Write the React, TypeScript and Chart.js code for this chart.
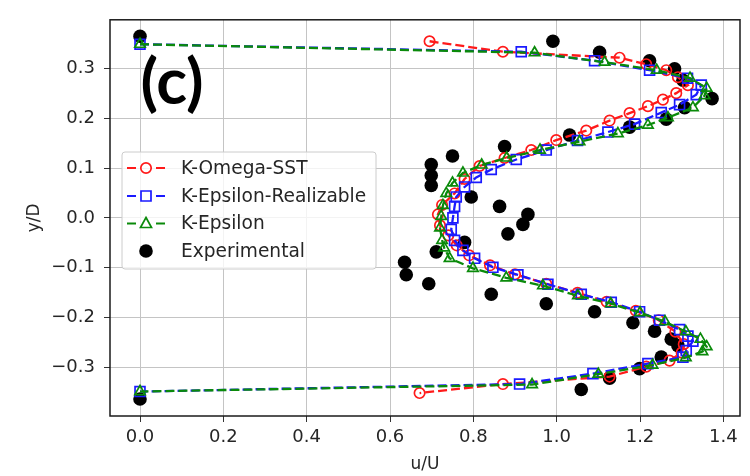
import React, { useEffect, useRef } from "react";
import { Chart, registerables } from "chart.js";
Chart.register(...registerables);

// ---- data ----
const xTicks = [0.0, 0.2, 0.4, 0.6, 0.8, 1.0, 1.2, 1.4];
const yTicks = [-0.3, -0.2, -0.1, 0.0, 0.1, 0.2, 0.3];

const kOmegaSST_u = [0.695, 0.871, 1.151, 1.215, 1.263, 1.291, 1.315, 1.287, 1.255, 1.219, 1.175, 1.127, 1.071, 0.999, 0.939, 0.875, 0.815, 0.779, 0.755, 0.725, 0.715, 0.72, 0.74, 0.76, 0.79, 0.84, 0.9, 0.975, 1.05, 1.12, 1.19, 1.245, 1.285, 1.305, 1.3, 1.271, 1.215, 1.127, 0.871, 0.671];
const kOmegaSST_y = [0.354, 0.333, 0.321, 0.308, 0.296, 0.282, 0.266, 0.25, 0.237, 0.224, 0.21, 0.195, 0.175, 0.156, 0.136, 0.12, 0.104, 0.078, 0.049, 0.026, 0.007, -0.015, -0.035, -0.055, -0.075, -0.095, -0.113, -0.132, -0.15, -0.168, -0.186, -0.205, -0.228, -0.253, -0.27, -0.286, -0.298, -0.318, -0.333, -0.351];

const kEpsReal_u = [0, 0.915, 1.091, 1.223, 1.314, 1.347, 1.335, 1.295, 1.251, 1.187, 1.123, 1.05, 0.975, 0.903, 0.843, 0.807, 0.779, 0.759, 0.755, 0.751, 0.747, 0.755, 0.775, 0.803, 0.847, 0.907, 0.979, 1.059, 1.131, 1.199, 1.247, 1.295, 1.315, 1.327, 1.311, 1.303, 1.219, 1.087, 0.911, 0];
const kEpsReal_y = [0.348, 0.333, 0.315, 0.296, 0.28, 0.266, 0.247, 0.227, 0.211, 0.188, 0.172, 0.155, 0.136, 0.117, 0.097, 0.081, 0.062, 0.042, 0.023, 0.0, -0.023, -0.045, -0.065, -0.081, -0.099, -0.114, -0.133, -0.153, -0.169, -0.188, -0.205, -0.224, -0.237, -0.247, -0.266, -0.279, -0.292, -0.312, -0.333, -0.348];

const kEps_u = [0, 0.947, 1.115, 1.24, 1.32, 1.36, 1.355, 1.327, 1.267, 1.219, 1.147, 1.055, 0.96, 0.88, 0.82, 0.775, 0.75, 0.735, 0.727, 0.723, 0.72, 0.725, 0.73, 0.743, 0.799, 0.879, 0.967, 1.051, 1.13, 1.2, 1.26, 1.31, 1.345, 1.36, 1.35, 1.31, 1.23, 1.1, 0.941, 0];
const kEps_y = [0.348, 0.331, 0.312, 0.296, 0.28, 0.26, 0.245, 0.221, 0.201, 0.186, 0.169, 0.153, 0.136, 0.12, 0.106, 0.09, 0.07, 0.049, 0.025, 0.003, -0.02, -0.045, -0.06, -0.081, -0.101, -0.12, -0.136, -0.156, -0.172, -0.19, -0.208, -0.228, -0.243, -0.258, -0.268, -0.28, -0.295, -0.313, -0.334, -0.348];

const exp_u = [0, 0.991, 1.103, 1.223, 1.283, 1.303, 1.373, 1.307, 1.263, 1.175, 1.031, 0.875, 0.75, 0.699, 0.699, 0.699, 0.795, 0.863, 0.931, 0.919, 0.883, 0.779, 0.711, 0.635, 0.639, 0.693, 0.843, 0.975, 1.091, 1.183, 1.235, 1.275, 1.291, 1.251, 1.199, 1.127, 1.059, 0];
const exp_y = [0.364, 0.354, 0.332, 0.315, 0.299, 0.276, 0.239, 0.221, 0.198, 0.182, 0.166, 0.143, 0.124, 0.107, 0.085, 0.065, 0.042, 0.023, 0.007, -0.013, -0.032, -0.049, -0.068, -0.089, -0.114, -0.132, -0.153, -0.172, -0.188, -0.21, -0.227, -0.243, -0.256, -0.279, -0.302, -0.321, -0.344, -0.363];

const seriesNames = ["K-Omega-SST", "K-Epsilon-Realizable", "K-Epsilon", "Experimental"];
const panelLabel = "(c)";
const xTitle = "u/U";
const yTitle = "y/D";

const RED = "#ff1a1a";
const BLUE = "#1a1aff";
const GREEN = "#0a8a0a";
const BLACK = "#000000";
const TXT = "#262626";
const FONT = "'DejaVu Sans', sans-serif";

const pts = (u: number[], y: number[]) => u.map((v, i) => ({ x: v, y: y[i] }));
const fmt = (v: number) => {
  const s = Math.abs(v) < 1e-9 ? "0.0" : v.toFixed(1);
  return s.replace("-", "\u2212");
};

function drawMarker(ctx: CanvasRenderingContext2D, kind: string, x: number, y: number, color: string) {
  ctx.save();
  ctx.setLineDash([]);
  ctx.lineWidth = 1.7;
  ctx.strokeStyle = color;
  ctx.fillStyle = color;
  ctx.beginPath();
  if (kind === "circle") {
    ctx.arc(x, y, 5.2, 0, Math.PI * 2);
    ctx.stroke();
  } else if (kind === "rect") {
    ctx.rect(x - 5, y - 5, 10, 10);
    ctx.stroke();
  } else if (kind === "triangle") {
    ctx.moveTo(x, y - 6);
    ctx.lineTo(x + 5.5, y + 4);
    ctx.lineTo(x - 5.5, y + 4);
    ctx.closePath();
    ctx.stroke();
  } else {
    ctx.arc(x, y, 6.8, 0, Math.PI * 2);
    ctx.fill();
  }
  ctx.restore();
}

const decorPlugin = {
  id: "decor",
  afterDatasetsDraw(chart: any) {
    const { ctx, chartArea } = chart;
    ctx.save();
    ctx.strokeStyle = "#1a1a1a";
    ctx.lineWidth = 1.5;
    ctx.strokeRect(chartArea.left, chartArea.top, chartArea.right - chartArea.left, chartArea.bottom - chartArea.top);
    ctx.restore();
  },
  afterDraw(chart: any) {
    const { ctx, chartArea } = chart;
    ctx.save();
    // panel label
    ctx.fillStyle = "#000";
    ctx.font = "bold 64px Lato, 'Open Sans', sans-serif";
    ctx.textAlign = "center";
    ctx.textBaseline = "middle";
    ctx.fillText(panelLabel, 172, 83);

    // legend box
    const bx = 122, by = 152, bw = 254, bh = 117;
    ctx.fillStyle = "rgba(255,255,255,0.8)";
    ctx.strokeStyle = "#cccccc";
    ctx.lineWidth = 1;
    ctx.beginPath();
    const r = 3;
    ctx.moveTo(bx + r, by);
    ctx.lineTo(bx + bw - r, by);
    ctx.quadraticCurveTo(bx + bw, by, bx + bw, by + r);
    ctx.lineTo(bx + bw, by + bh - r);
    ctx.quadraticCurveTo(bx + bw, by + bh, bx + bw - r, by + bh);
    ctx.lineTo(bx + r, by + bh);
    ctx.quadraticCurveTo(bx, by + bh, bx, by + bh - r);
    ctx.lineTo(bx, by + r);
    ctx.quadraticCurveTo(bx, by, bx + r, by);
    ctx.closePath();
    ctx.fill();
    ctx.stroke();

    const rows = [168, 196, 223.5, 251];
    const colors = [RED, BLUE, GREEN, BLACK];
    const kinds = ["circle", "rect", "triangle", "dot"];
    for (let i = 0; i < 4; i++) {
      const yy = rows[i];
      if (i < 3) {
        ctx.save();
        ctx.strokeStyle = colors[i];
        ctx.lineWidth = 2.2;
        ctx.beginPath();
        ctx.moveTo(127, yy);
        ctx.lineTo(136, yy);
        ctx.moveTo(156, yy);
        ctx.lineTo(165, yy);
        ctx.stroke();
        ctx.restore();
      }
      drawMarker(ctx, kinds[i], 146, yy, colors[i]);
      ctx.fillStyle = TXT;
      ctx.font = `18.6px ${FONT}`;
      ctx.textAlign = "left";
      ctx.textBaseline = "middle";
      ctx.fillText(seriesNames[i], 181, yy + 1);
    }

    // axis titles
    ctx.fillStyle = TXT;
    ctx.font = `17px ${FONT}`;
    ctx.textAlign = "center";
    ctx.textBaseline = "middle";
    ctx.fillText(xTitle, (chartArea.left + chartArea.right) / 2, 465);
    ctx.translate(35, (chartArea.top + chartArea.bottom) / 2);
    ctx.rotate(-Math.PI / 2);
    ctx.fillText(yTitle, 0, 0);
    ctx.restore();
  },
};

export default function App() {
  const ref = useRef<HTMLCanvasElement | null>(null);
  useEffect(() => {
    if (!ref.current) return;
    const common = { showLine: true, borderWidth: 2.3, borderDash: [9, 4], tension: 0, pointBorderWidth: 1.7, pointBackgroundColor: "rgba(0,0,0,0)" };
    const chart = new Chart(ref.current, {
      type: "scatter",
      data: {
        datasets: [
          { ...common, label: seriesNames[0], data: pts(kOmegaSST_u, kOmegaSST_y), borderColor: RED, pointBorderColor: RED, pointStyle: "circle", pointRadius: 5.2, order: 3 },
          { ...common, label: seriesNames[1], data: pts(kEpsReal_u, kEpsReal_y), borderColor: BLUE, pointBorderColor: BLUE, pointStyle: "rect", pointRadius: 7, order: 2 },
          { ...common, label: seriesNames[2], data: pts(kEps_u, kEps_y), borderColor: GREEN, pointBorderColor: GREEN, pointStyle: "triangle", pointRadius: 6, order: 1 },
          { label: seriesNames[3], data: pts(exp_u, exp_y), showLine: false, pointStyle: "circle", pointRadius: 6.8, pointBackgroundColor: BLACK, pointBorderColor: BLACK, pointBorderWidth: 0, order: 4 },
        ] as any,
      },
      options: {
        animation: false,
        responsive: false,
        maintainAspectRatio: false,
        layout: { padding: { left: 0, right: 10, top: 8, bottom: 0 } },
        plugins: { legend: { display: false }, tooltip: { enabled: false } },
        scales: {
          x: {
            type: "linear",
            min: -0.072,
            max: 1.44,
            afterFit: (s: any) => { s.height = 60; },
            afterBuildTicks: (s: any) => { s.ticks = xTicks.map((v) => ({ value: v })); },
            ticks: { callback: (v: any) => fmt(Number(v)), font: { family: FONT, size: 18 }, color: TXT, padding: 5, maxRotation: 0, autoSkip: false },
            grid: { color: "#c4c4c4", tickColor: "#333", tickLength: 6, lineWidth: 1 },
            border: { display: false },
          },
          y: {
            type: "linear",
            min: -0.397,
            max: 0.397,
            afterFit: (s: any) => { s.width = 110; },
            afterBuildTicks: (s: any) => { s.ticks = yTicks.map((v) => ({ value: v })); },
            ticks: { callback: (v: any) => fmt(Number(v)), font: { family: FONT, size: 18 }, color: TXT, padding: 9, autoSkip: false },
            grid: { color: "#c4c4c4", tickColor: "#333", tickLength: 6, lineWidth: 1 },
            border: { display: false },
          },
        },
      } as any,
      plugins: [decorPlugin],
    });
    return () => chart.destroy();
  }, []);
  return (
    <div style={{ position: "absolute", left: 0, top: 0, width: 750, height: 476, background: "#fff" }}>
      <canvas ref={ref} width={750} height={476} style={{ display: "block", width: 750, height: 476 }} />
    </div>
  );
}
